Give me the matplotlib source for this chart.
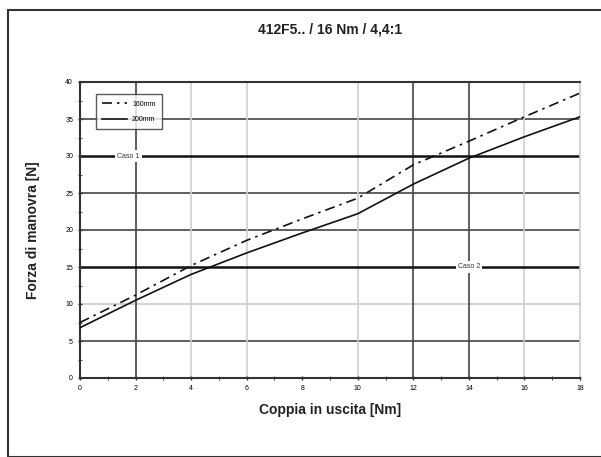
import matplotlib
matplotlib.use("Agg")
import matplotlib.pyplot as plt
from matplotlib.patches import Rectangle

plt.rcParams['font.family'] = ['Liberation Sans', 'DejaVu Sans']

x_vals = [0, 2, 4, 6, 8, 10, 12, 14, 16, 18]
force_160 = [7.5, 11.2, 15.2, 18.6, 21.5, 24.3, 28.8, 32.0, 35.3, 38.5]
force_200 = [6.8, 10.5, 14.0, 16.9, 19.6, 22.2, 26.2, 29.7, 32.6, 35.3]
series_labels = ["160mm", "200mm"]
x_ticks = [0, 2, 4, 6, 8, 10, 12, 14, 16, 18]
y_ticks = [0, 5, 10, 15, 20, 25, 30, 35, 40]
case_levels = [30, 15]
case_labels = ["Caso 1", "Caso 2"]
case_label_x = [1.75, 14]

fig = plt.figure(figsize=(6.01, 4.57), dpi=100)
ax = fig.add_axes([80/601, 1-378/457, 500/601, 296/457])

# grid lines
dark_h = [5, 20, 25, 35]
light_h = [10]
for y in dark_h:
    ax.axhline(y, color='#444444', lw=1.2, zorder=1)
for y in light_h:
    ax.axhline(y, color='#cccccc', lw=1.2, zorder=1)
dark_v = [2, 12, 14]
light_v = [4, 6, 10, 16]
for x in dark_v:
    ax.axvline(x, color='#444444', lw=1.2, zorder=1)
for x in light_v:
    ax.axvline(x, color='#d0d0d0', lw=1.2, zorder=1)
for y in case_levels:
    ax.axhline(y, color='#111111', lw=1.8, zorder=1)
for lab, y, xl in zip(case_labels, case_levels, case_label_x):
    ax.text(xl, y, lab, ha='center', va='center', fontsize=5, color='#333333',
            bbox=dict(facecolor='white', edgecolor='none', pad=1.5), zorder=2)

ax.plot(x_vals, force_160, color='#111111', lw=1.2, ls=(0, (6, 3, 1.5, 3)),
        label=series_labels[0], zorder=3)
ax.plot(x_vals, force_200, color='#111111', lw=1.2, ls='-',
        label=series_labels[1], zorder=3)

ax.set_xlim(0, 18)
ax.set_ylim(0, 40)
ax.set_xticks(x_ticks)
ax.set_yticks(y_ticks)
ax.set_xticks([1, 3, 5, 7, 9, 11, 13, 15, 17], minor=True)
ax.set_yticks([2.5 + 5*i for i in range(8)], minor=True)
ax.tick_params(axis='both', which='major', labelsize=5, length=3, width=1, color='#333333', direction='inout')
ax.tick_params(axis='both', which='minor', length=2.5, width=0.8, color='#555555', direction='inout')

for s in ['left', 'bottom', 'top']:
    ax.spines[s].set_color('#333333')
    ax.spines[s].set_linewidth(1.5)
ax.spines['right'].set_color('#cccccc')
ax.spines['right'].set_linewidth(1.2)

leg = ax.legend(loc='upper left', bbox_to_anchor=(0.025, 0.97), fontsize=5,
                frameon=True, fancybox=False, edgecolor='#333333',
                handlelength=3.5, borderpad=0.9, labelspacing=1.2)
leg.get_frame().set_linewidth(1.0)

fig.text(330/601, 1-30/457, "412F5.. / 16 Nm / 4,4:1", ha='center', va='center',
         fontsize=10, fontweight='bold', color='#222222')
fig.text(330/601, 1-410/457, "Coppia in uscita [Nm]", ha='center', va='center',
         fontsize=10, fontweight='bold', color='#222222')
fig.text(33/601, 1-230/457, "Forza di manovra [N]", ha='center', va='center',
         rotation=90, fontsize=10, fontweight='bold', color='#222222')

fig.patches.append(Rectangle((8/601, 0), 1, 1-10/457, transform=fig.transFigure,
                             fill=False, edgecolor='#333333', lw=1.5))

fig.savefig("out.png", dpi=100)
